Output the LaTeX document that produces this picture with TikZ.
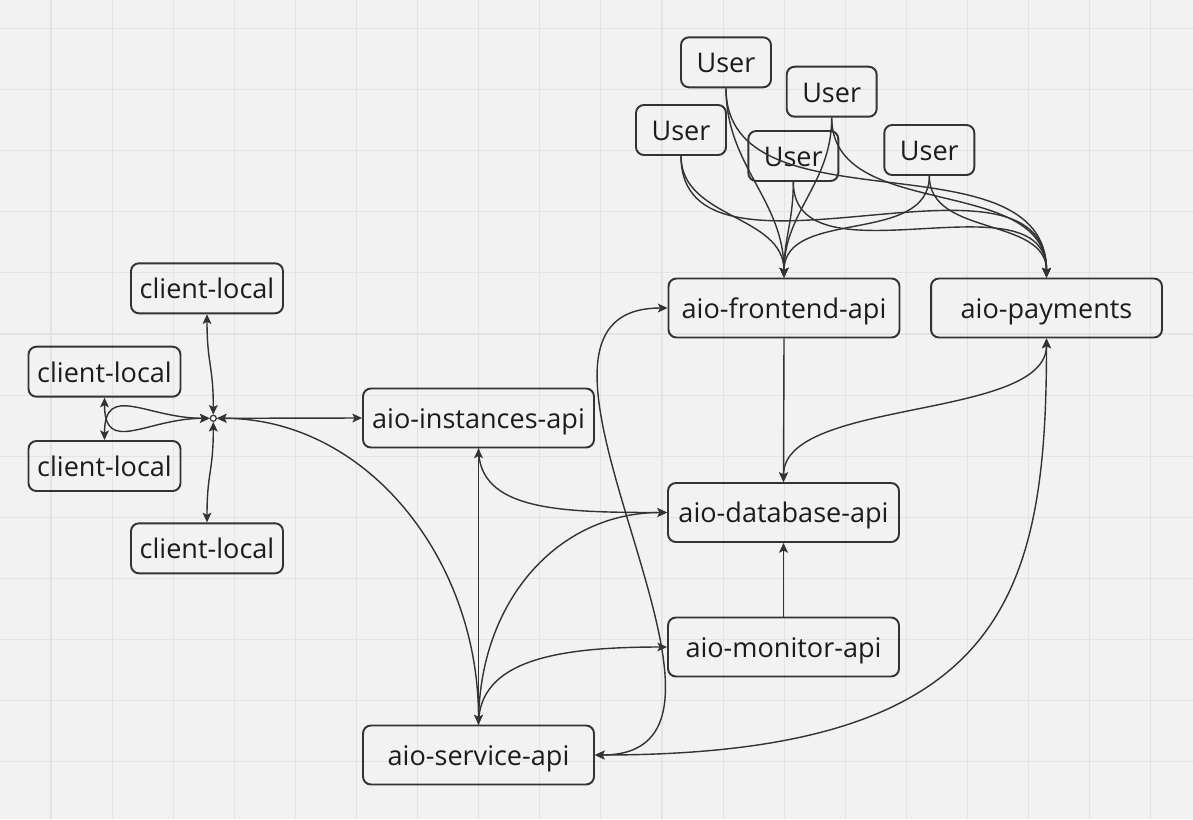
\documentclass[tikz,border=0pt]{standalone}
\usepackage{fontspec}
\setmainfont{Open Sans}
\usetikzlibrary{arrows.meta}
\definecolor{bgc}{HTML}{F2F2F2}
\definecolor{gridc}{HTML}{E3E3E3}
\definecolor{linec}{HTML}{333333}
\definecolor{textc}{HTML}{1C1C1C}
\tikzset{
  box/.style={draw=linec, line width=1.1pt, rounded corners=4.5pt, inner sep=0pt,
    text=textc, font=\fontsize{15.4pt}{18pt}\selectfont, text height=13pt, text depth=1.2pt},
  aiobox/.style={box, minimum width=4.62cm, minimum height=1.18cm},
  userbox/.style={box, minimum width=1.8cm, minimum height=1.0cm},
  clientbox/.style={box, minimum width=3.04cm, minimum height=1.0cm},
  hubnode/.style={circle, draw=linec, fill=white, line width=0.7pt, minimum size=0.12cm, inner sep=0pt},
  conn/.style={draw=linec, line width=0.8pt},
  gridline/.style={draw=gridc, line width=0.6pt},
  >={Stealth[length=5.5pt,width=5pt,inset=1.2pt]}
}
\begin{document}
\begin{tikzpicture}[x=0.02cm,y=-0.02cm]
\fill[bgc] (0,0) rectangle (1193,819);
\useasboundingbox (0,0) rectangle (1193,819);
\foreach \i in {0,...,18} \draw[gridline] ({51+61.1*\i},0) -- ({51+61.1*\i},819);
\foreach \j in {0,...,12} \draw[gridline] (0,{28.5+61.1*\j}) -- (1193,{28.5+61.1*\j});

% nodes
\node[userbox] (u1) at (726,62.3) {User};
\node[userbox] (u2) at (831.7,91.7) {User};
\node[userbox] (u3) at (681,130) {User};
\node[userbox] (u4) at (793.3,156) {User};
\node[userbox] (u5) at (929.3,150) {User};

\node[aiobox] (fe) at (784,308) {aio-frontend-api};
\node[aiobox] (pay) at (1046.5,308) {aio-payments};
\node[aiobox] (inst) at (478.5,418) {aio-instances-api};
\node[aiobox] (db) at (783.5,512.5) {aio-database-api};
\node[aiobox] (mon) at (783.5,647) {aio-monitor-api};
\node[aiobox] (sv) at (478.5,755) {aio-service-api};

\node[clientbox] (ct) at (207,288.3) {client-local};
\node[clientbox] (cl1) at (104.5,371.7) {client-local};
\node[clientbox] (cl2) at (104.5,466) {client-local};
\node[clientbox] (cb) at (207,548.3) {client-local};

\node[hubnode] (hub) at (213.3,418.3) {};

% hub connectors
\draw[conn,<->] (hub.north) .. controls +(0,-50) and +(0,50) .. (ct.south);
\draw[conn,<->] (hub.south) .. controls +(0,50) and +(0,-50) .. (cb.north);
\draw[conn,<->] (hub.west) .. controls +(-63,0) and +(0,58) .. (cl1.south);
\draw[conn,<->] (hub.west) .. controls +(-63,0) and +(0,-58) .. (cl2.north);
\draw[conn,<->] (hub.east) -- (inst.west);
\draw[conn,<->] (hub.east) .. controls +(150,0) and +(0,-165) .. (sv.north);

% service / instances
\draw[conn,<->] (inst.south) -- (sv.north);
\draw[conn,->] (inst.south) .. controls +(0,62) and +(-108,0) .. (db.west);
\draw[conn,->] (sv.north) .. controls +(0,-125) and +(-108,0) .. (db.west);
\draw[conn,->] (sv.north) .. controls +(0,-65) and +(-108,0) .. (mon.west);

% long connectors
\draw[conn,<->] (fe.west) .. controls +(-200,0) and +(200,0) .. (sv.east);
\draw[conn,<->] (pay.south) .. controls +(0,262) and +(407,0) .. (sv.east);
\draw[conn,<->] (db.north) .. controls +(0,-84) and +(0,82) .. (pay.south);
\draw[conn,->] (fe.south) -- (db.north);
\draw[conn,->] (mon.north) -- (db.south);

% users
\draw[conn,->] (u1.south) .. controls +(0,78) and +(0,-78) .. (fe.north);
\draw[conn,->] (u1.south) .. controls +(0,146) and +(0,-146) .. (pay.north);
\draw[conn,->] (u2.south) .. controls +(0,66) and +(0,-66) .. (fe.north);
\draw[conn,->] (u2.south) .. controls +(0,105) and +(0,-105) .. (pay.north);
\draw[conn,->] (u3.south) .. controls +(0,63) and +(0,-63) .. (fe.north);
\draw[conn,->] (u3.south) .. controls +(0,151) and +(0,-151) .. (pay.north);
\draw[conn,->] (u4.south) .. controls +(0,39) and +(0,-39) .. (fe.north);
\draw[conn,->] (u4.south) .. controls +(0,106) and +(0,-106) .. (pay.north);
\draw[conn,->] (u5.south) .. controls +(0,70) and +(0,-70) .. (fe.north);
\draw[conn,->] (u5.south) .. controls +(0,61) and +(0,-61) .. (pay.north);
\end{tikzpicture}
\end{document}
